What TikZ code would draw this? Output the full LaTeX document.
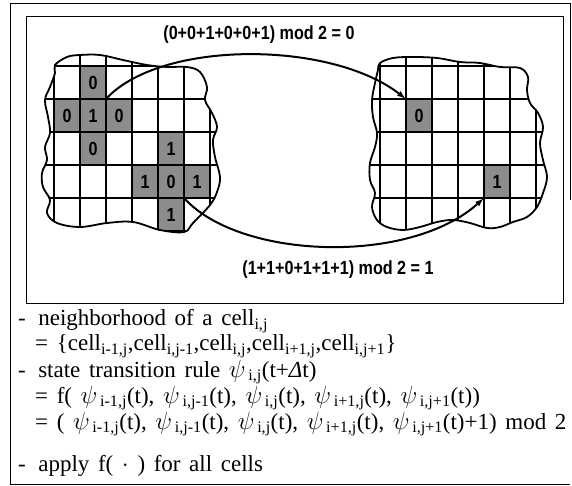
\documentclass[tikz,border=0pt]{standalone}
\usepackage{fontspec}
\setmainfont{Liberation Serif}[WordSpace=1.5]
\newfontfamily\labelfont[FakeStretch=0.85]{Liberation Sans}
\usetikzlibrary{arrows.meta}

\newcommand\psisub[1]{$\psi$\textsubscript{\,#1}}
\newcommand\leftshape{plot[smooth cycle,tension=0.6] coordinates {(55,65) (67,57) (80,55) (100,55) (123,60) (147,65) (167,67) (187,67) (200,72) (207,87) (205,100) (212,113) (217,127) (213,140) (215,157) (220,177) (217,192) (210,205) (193,223) (184,232) (160,230) (133,222) (107,223) (80,227) (57,223) (47,213) (50,200) (43,187) (42,173) (47,160) (45,147) (50,133) (48,117) (45,100) (50,87) (55,73)}}
\newcommand\rightshape{plot[smooth cycle,tension=0.6] coordinates {(380,63) (393,58) (413,57) (437,58) (460,62) (480,63) (500,67) (520,68) (528,77) (527,90) (530,103) (538,113) (543,127) (540,143) (543,160) (547,177) (543,193) (537,207) (527,217) (513,222) (500,227) (487,228) (470,223) (453,220) (437,222) (420,227) (403,230) (387,227) (377,220) (372,207) (375,193) (370,180) (370,163) (375,147) (377,133) (373,117) (372,100) (375,83) (378,70)}}

\begin{document}
\begin{tikzpicture}[x=1pt,y=-1pt,>={Latex[length=9pt,width=6pt]},
  frame/.style={line width=1pt},
  blob/.style={line width=1.8pt},
  gridline/.style={line width=1.6pt},
  hit/.style={fill=black!45,minimum width=26pt,minimum height=33pt,inner sep=0pt,outer sep=0pt,font=\labelfont\bfseries\fontsize{19}{19}\selectfont},
  sum/.style={inner sep=0pt,font=\labelfont\bfseries\fontsize{19}{19}\selectfont},
  rule/.style={anchor=west,inner sep=0pt,font=\fontsize{23}{23}\selectfont},
  link/.style={->,line width=2pt}]
\useasboundingbox (0,0) rectangle (572,486);

% frames
\draw[frame] (570,200) -- (570,4) -- (10,4) -- (10,484) -- (570,484);
\draw[frame] (26,17) rectangle (563,303);

% left field, time t
\foreach \c/\r/\v in {1/0/0,0/1/0,1/1/1,2/1/0,1/2/0,4/2/1,3/3/1,4/3/0,5/3/1,4/4/1}
  \node[hit] (l\c\r) at ({54+26*(\c+0.5)},{66+33*(\r+0.5)}) {\v};
\begin{scope}
  \clip \leftshape;
  \foreach \i in {0,...,6}
    \draw[gridline] ({54+26*\i},40) -- ({54+26*\i},250);
  \foreach \j in {0,...,5}
    \draw[gridline] (30,{66+33*\j}) -- (240,{66+33*\j});
\end{scope}
\draw[blob] \leftshape;

% right field, time t+dt
\foreach \c/\r/\v in {1/1/0,4/3/1}
  \node[hit] (r\c\r) at ({380+26*(\c+0.5)},{66+33*(\r+0.5)}) {\v};
\begin{scope}
  \clip \rightshape;
  \foreach \i in {0,...,6}
    \draw[gridline] ({380+26*\i},40) -- ({380+26*\i},250);
  \foreach \j in {0,...,5}
    \draw[gridline] (350,{66+33*\j}) -- (560,{66+33*\j});
\end{scope}
\draw[blob] \rightshape;

% sums
\node[sum] (topsum) at (259,35) {(0+0+1+0+0+1) mod 2 = 0};
\node[sum] (botsum) at (338,270) {(1+1+0+1+1+1) mod 2 = 1};
\draw[link] (l11.north east) .. controls (160,40) and (330,40) .. (r11.north west);
\draw[link] (l43.south east) .. controls (240,260) and (410,265) .. (r43.south west);

% rule text
\node[rule] (hood) at (18,321) {-\, neighborhood of a cell\textsubscript{i,j}};
\node[rule] (hoodset) at (35,346) {= \{cell\textsubscript{i-1,j},cell\textsubscript{i,j-1},cell\textsubscript{i,j},cell\textsubscript{i+1,j},cell\textsubscript{i,j+1}\}};
\node[rule] (trans) at (18,372) {-\, state transition rule \psisub{i,j}(t+\textit{Δ}t)};
\node[rule] (transf) at (35,398) {= f( \psisub{i-1,j}(t), \psisub{i,j-1}(t), \psisub{i,j}(t), \psisub{i+1,j}(t), \psisub{i,j+1}(t))};
\node[rule] (transmod) at (35,424) {= ( \psisub{i-1,j}(t), \psisub{i,j-1}(t), \psisub{i,j}(t), \psisub{i+1,j}(t), \psisub{i,j+1}(t)+1) mod 2};
\node[rule] (apply) at (18,466) {-\, apply f( $\cdot$ ) for all cells};
\end{tikzpicture}
\end{document}
